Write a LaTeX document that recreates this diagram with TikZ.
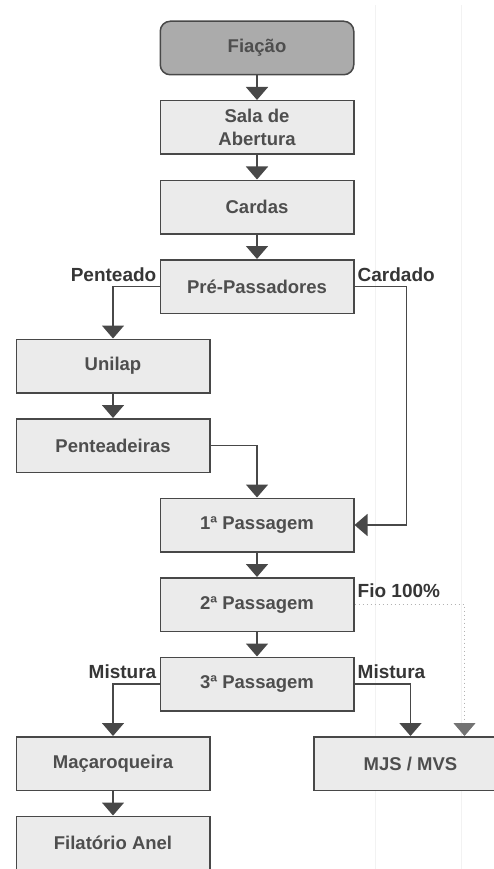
\documentclass[tikz,border=0pt]{standalone}
\usepackage{fontspec}
\setmainfont{Liberation Sans}
\usetikzlibrary{positioning}
\usetikzlibrary{arrows.meta}
\definecolor{boxfill}{HTML}{EBEBEB}
\definecolor{headfill}{HTML}{ABABAB}
\definecolor{boxline}{HTML}{484848}
\definecolor{boxtext}{HTML}{4E4E4E}
\definecolor{tagtext}{HTML}{363636}
\tikzset{
	block/.style={
		rectangle,
		draw=boxline,
		fill=boxfill,
		line width=1.5pt,
		align=center,
		minimum width=193.5pt,
		minimum height=53.5pt,
		inner sep=2pt,
		text=boxtext,
		font=\fontsize{18.5}{23}\selectfont\bfseries
	},
	head/.style={block, fill=headfill, rounded corners=10pt},
	flow/.style={draw=boxline, line width=1.6pt, -{Triangle[width=22pt,length=13pt]}},
	fio/.style={draw=black!30, line width=1pt, dash pattern=on 1pt off 3pt,
		-{Triangle[width=22pt,length=13pt,color=black!55,fill=black!55]}},
	tag/.style={text=tagtext, inner sep=3pt, font=\fontsize{19}{22}\selectfont\bfseries}
}

\begin{document}
\begin{tikzpicture}[x=1pt, y=-1pt]
		\useasboundingbox (0,0) rectangle (494,869);
		% faint lines of the scanned page
		\draw [black!5, line width=1pt] (375,5) -- (375,869);
		\draw [black!5, line width=1pt] (461,5) -- (461,869);
		
		\draw node[head] (Fiacao) at (257,48) {Fiação};
		\draw node[block, below=24.5pt of Fiacao] (Sala) {Sala de\\Abertura};
		\draw node[block, below=24.5pt of Sala] (Cardas) {Cardas};
		\draw node[block, below=24.5pt of Cardas] (PrePass) {Pré-Passadores};
		\draw node[block, below=24.5pt of PrePass, xshift=-144pt] (Unilap) {Unilap};
		\draw node[block, below=24.5pt of Unilap] (Pent) {Penteadeiras};
		\draw node[block, below=24.5pt of Pent, xshift=144pt] (Pass1) {1ª Passagem};
		\draw node[block, below=24.5pt of Pass1] (Pass2) {2ª Passagem};
		\draw node[block, below=24.5pt of Pass2] (Pass3) {3ª Passagem};
		\draw node[block, below=24.5pt of Pass3, xshift=-144pt] (Macaroq) {Maçaroqueira};
		\draw node[block, below=24.5pt of Macaroq] (Filatorio) {Filatório Anel};
		\draw node[block, right=102.5pt of Macaroq] (MJS) {MJS / MVS};
		
		\draw [flow] (Fiacao) -- (Sala);
		\draw [flow] (Sala) -- (Cardas);
		\draw [flow] (Cardas) -- (PrePass);
		\draw [flow] (PrePass.west) -| (Unilap.north);
		\draw [flow] (PrePass.east) -- ++(52pt,0) |- (Pass1.east);
		\draw [flow] (Unilap) -- (Pent);
		\draw [flow] (Pent.east) -| (Pass1.north);
		\draw [flow] (Pass1) -- (Pass2);
		\draw [flow] (Pass2) -- (Pass3);
		\draw [flow] (Pass3.west) -| (Macaroq.north);
		\draw [flow] (Pass3.east) -| (MJS.north);
		\draw [flow] (Macaroq) -- (Filatorio);
		\draw [fio] (Pass2.east) -| ([xshift=54pt]MJS.north);
		
		\node[tag, above left=2pt and 0pt of PrePass.west] (tPenteado) {Penteado};
		\node[tag, above right=2pt and 0pt of PrePass.east] (tCardado) {Cardado};
		\node[tag, above right=4pt and 0pt of Pass2.east] (tFio) {Fio 100\%};
		\node[tag, above left=2pt and 0pt of Pass3.west] (tMistL) {Mistura};
		\node[tag, above right=2pt and 0pt of Pass3.east] (tMistR) {Mistura};
	\end{tikzpicture}
\end{document}
